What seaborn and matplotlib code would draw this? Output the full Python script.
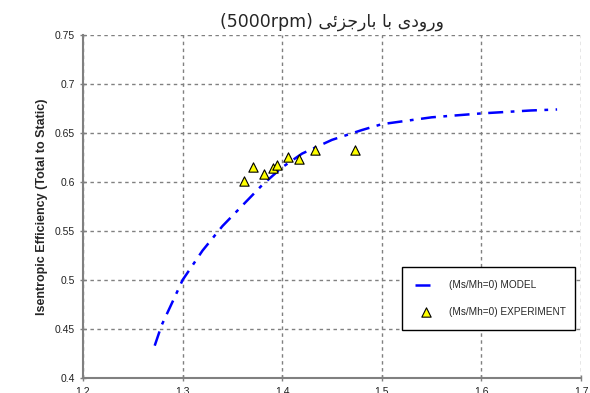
import matplotlib
matplotlib.use("Agg")
import matplotlib.pyplot as plt
import seaborn as sns
import pandas as pd

# ---- data ----
model_x = [1.272, 1.279, 1.29, 1.30, 1.32, 1.34, 1.36, 1.38, 1.40, 1.42, 1.45, 1.48, 1.50, 1.55, 1.60, 1.65, 1.676]
model_y = [0.433, 0.454, 0.478, 0.500, 0.530, 0.555, 0.576, 0.597, 0.615, 0.629, 0.643, 0.653, 0.659, 0.666, 0.670, 0.673, 0.674]
exp_x = [1.362, 1.371, 1.382, 1.391, 1.395, 1.406, 1.417, 1.433, 1.473]
exp_y = [0.601, 0.615, 0.608, 0.614, 0.617, 0.626, 0.623, 0.633, 0.633]
x_ticks = [1.2, 1.3, 1.4, 1.5, 1.6, 1.7]
y_ticks = [0.4, 0.45, 0.5, 0.55, 0.6, 0.65, 0.7, 0.75]
model_label = "(Ms/Mh=0) MODEL"
exp_label = "(Ms/Mh=0) EXPERIMENT"
# title: "ورودی با بارجزئی (5000rpm)" written in shaped visual order
title_text = "(5000rpm) " + "\uFEF0\uFE8B\uFEB0\uFE9F\uFEAD\uFE8E\uFE91" + " " + "\uFE8E\uFE91" + " " + "\uFEEF\uFEA9\uFEED\uFEAD\uFEED"

sns.set_style("white")
plt.rcParams['font.family'] = ['Liberation Sans', 'DejaVu Sans']

fig = plt.figure(figsize=(5.9, 3.93), dpi=100)
ax = fig.add_axes([83/590, 15/393, 498/590, 343/393])

model_df = pd.DataFrame({"x": model_x, "y": model_y})
exp_df = pd.DataFrame({"x": exp_x, "y": exp_y})

sns.lineplot(data=model_df, x="x", y="y", sort=False, ax=ax, color="#0000FF",
             linewidth=1.8, label=model_label)
ax.lines[-1].set_dashes([6, 3, 1.5, 3])
sns.scatterplot(data=exp_df, x="x", y="y", ax=ax, marker="^", s=45,
                color="#FFFF00", edgecolor="black", linewidth=0.8,
                label=exp_label, zorder=5)

ax.set_xlim(1.2, 1.7)
ax.set_ylim(0.4, 0.75)
ax.set_xticks(x_ticks)
ax.set_yticks(y_ticks)
ax.set_xticklabels([f"{v:g}" for v in x_ticks])
ax.set_yticklabels([f"{v:g}" for v in y_ticks])
ax.grid(True, color="#808080", linestyle=(0, (2.5, 2.5)), linewidth=1)
for s in ["top", "right"]:
    ax.spines[s].set_visible(False)
for s in ["left", "bottom"]:
    ax.spines[s].set_color("#808080")
    ax.spines[s].set_linewidth(1.5)
ax.tick_params(axis="both", direction="inout", length=5, width=1, color="#808080",
               labelsize=7.5, labelcolor="#222222", left=True, bottom=True)
ax.tick_params(axis="x", pad=4)
ax.set_xlabel("")
ax.set_ylabel("Isentropic Efficiency (Total to Static)", fontsize=9, fontweight="bold", labelpad=5)

ax.set_title(title_text, fontsize=12.5, family=["DejaVu Sans"], pad=6)

leg = ax.legend(loc="upper left", bbox_to_anchor=(0.63, 0.14, 0.368, 0.198), mode="expand",
                fontsize=7.2, frameon=True, fancybox=False, framealpha=1, edgecolor="black",
                handlelength=2.2, labelspacing=1.7, borderpad=1.3, handletextpad=1.2)
leg.get_frame().set_linewidth(1)

fig.savefig("out.png", dpi=100)
